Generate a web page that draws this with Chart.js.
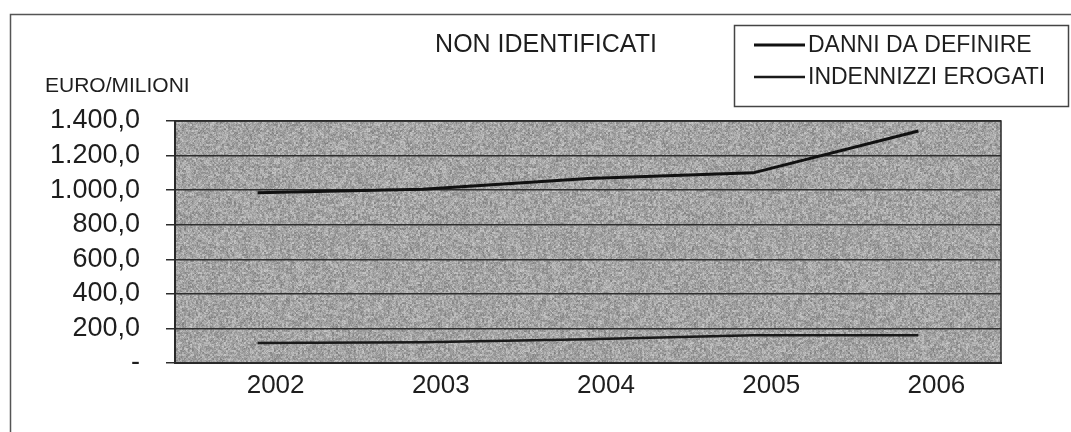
<!DOCTYPE html>
<html>
<head>
<meta charset="utf-8">
<script src="https://cdn.jsdelivr.net/npm/chart.js@4.4.1/dist/chart.umd.min.js"></script>
<style>
  html, body { margin: 0; padding: 0; background: #ffffff; }
  #wrap { width: 1071px; height: 432px; position: relative; }
</style>
</head>
<body>
<div id="wrap"><canvas id="c" width="1071" height="432"></canvas></div>
<script>
// Anni di riferimento
const years = ['2002', '2003', '2004', '2005', '2006'];

// Valori in milioni di euro
const danniDaDefinire = [985, 1005, 1067, 1100, 1342];
const indennizziErogati = [116, 120, 138, 160, 160];

// Etichette dell'asse verticale (0 .. 1.400 a passi di 200)
const yTickLabels = ['-', '200,0', '400,0', '600,0', '800,0', '1.000,0', '1.200,0', '1.400,0'];

const seriesNames = ['DANNI DA DEFINIRE', 'INDENNIZZI EROGATI'];
const chartTitle = 'NON IDENTIFICATI';
const unitLabel = 'EURO/MILIONI';

const FONT = '"Liberation Sans", Arial, sans-serif';
const INK = '#1e1e1e';

// Texture granulosa per lo sfondo dell'area del grafico
function makeGrain() {
  const size = 256;
  const cv = document.createElement('canvas');
  cv.width = size; cv.height = size;
  const g = cv.getContext('2d');
  const img = g.createImageData(size, size);
  let s = 12345;
  const rnd = () => { s = (s * 1103515245 + 12345) & 0x7fffffff; return s / 0x7fffffff; };
  // rumore a grana doppia: celle 2x2 più rumore fine
  const coarse = [];
  for (let i = 0; i < (size / 2) * (size / 2); i++) coarse.push((rnd() - 0.5) * 44);
  for (let y = 0; y < size; y++) {
    for (let x = 0; x < size; x++) {
      const i = y * size + x;
      const v = 164 + coarse[(y >> 1) * (size / 2) + (x >> 1)] + (rnd() - 0.5) * 36;
      img.data[i * 4] = v; img.data[i * 4 + 1] = v; img.data[i * 4 + 2] = v; img.data[i * 4 + 3] = 255;
    }
  }
  g.putImageData(img, 0, 0);
  return cv;
}
const grain = makeGrain();

const decorPlugin = {
  id: 'decor',
  beforeDraw(chart) {
    const { ctx, chartArea: a } = chart;
    ctx.save();
    ctx.fillStyle = ctx.createPattern(grain, 'repeat');
    ctx.fillRect(a.left, a.top, a.right - a.left, a.bottom - a.top);
    ctx.restore();
  },
  afterDraw(chart) {
    const { ctx, chartArea: a } = chart;
    ctx.save();
    // cornice del grafico
    ctx.strokeStyle = '#555';
    ctx.lineWidth = 1.5;
    ctx.strokeRect(10.5, 14.5, 1080, 440);
    // bordo dell'area del grafico
    ctx.strokeStyle = '#2a2a2a';
    ctx.lineWidth = 1.5;
    ctx.strokeRect(a.left, a.top, a.right - a.left, a.bottom - a.top);

    // titolo
    ctx.fillStyle = INK;
    ctx.textBaseline = 'middle';
    ctx.textAlign = 'center';
    ctx.font = '25px ' + FONT;
    ctx.fillText(chartTitle, 546, 45);

    // unità di misura
    ctx.textAlign = 'left';
    ctx.font = '21px ' + FONT;
    ctx.fillText(unitLabel, 45, 86);

    // legenda
    ctx.strokeStyle = '#444';
    ctx.lineWidth = 1.5;
    ctx.strokeRect(734.5, 25.5, 334, 81);
    ctx.font = '23px ' + FONT;
    chart.data.datasets.forEach((ds, i) => {
      const y = 45 + i * 32;
      ctx.strokeStyle = ds.borderColor;
      ctx.lineWidth = ds.borderWidth;
      ctx.beginPath();
      ctx.moveTo(754, y);
      ctx.lineTo(805, y);
      ctx.stroke();
      ctx.fillStyle = INK;
      ctx.fillText(ds.label, 808, y + 1);
    });
    ctx.restore();
  }
};

new Chart(document.getElementById('c'), {
  type: 'line',
  data: {
    labels: years,
    datasets: [
      { label: seriesNames[0], data: danniDaDefinire, borderColor: '#111', borderWidth: 3, pointRadius: 0, tension: 0, fill: false },
      { label: seriesNames[1], data: indennizziErogati, borderColor: '#1a1a1a', borderWidth: 2.5, pointRadius: 0, tension: 0, fill: false }
    ]
  },
  options: {
    responsive: false,
    animation: false,
    devicePixelRatio: 1,
    layout: { padding: { left: 0, right: 70, top: 121, bottom: 0 } },
    plugins: { legend: { display: false }, title: { display: false }, tooltip: { enabled: false } },
    scales: {
      x: {
        type: 'category',
        offset: true,
        grid: { display: false, drawTicks: false },
        border: { display: true, color: '#2a2a2a', width: 2 },
        ticks: { color: INK, font: { family: FONT, size: 26 }, padding: 7, labelOffset: 18, maxRotation: 0, autoSkip: false },
        afterFit(scale) { scale.height = 69; }
      },
      y: {
        min: 0, max: 1400,
        grid: { color: '#2e2e2e', lineWidth: 1.5, drawTicks: true, tickLength: 9, tickColor: '#2e2e2e' },
        border: { display: true, color: '#2a2a2a', width: 2 },
        ticks: {
          stepSize: 200,
          autoSkip: false,
          color: INK,
          font: { family: FONT, size: 27, lineHeight: 1 },
          padding: 26,
          callback: (v, i) => yTickLabels[i]
        },
        afterFit(scale) { scale.width = 175; }
      }
    }
  },
  plugins: [decorPlugin]
});
</script>
</body>
</html>
